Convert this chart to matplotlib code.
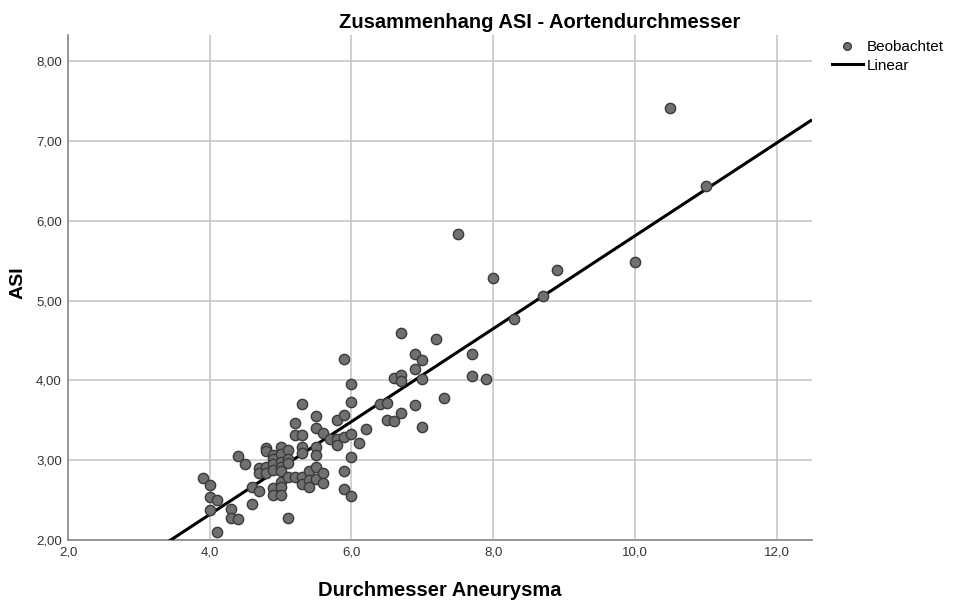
import numpy as np
import matplotlib
matplotlib.use("Agg")
import matplotlib.pyplot as plt
from matplotlib.lines import Line2D

plt.rcParams['font.family'] = ['Liberation Sans', 'DejaVu Sans']

# Data: (Durchmesser Aneurysma, ASI)
durchmesser = [
    3.9, 4.0, 4.0, 4.1, 4.0, 4.3, 4.3, 4.4, 4.1, 4.4,
    4.5, 4.6, 4.6, 4.7, 4.7, 4.7, 4.8, 4.8, 4.8, 4.8,
    4.9, 4.9, 4.9, 4.9, 4.9, 4.9, 5.0, 5.0, 5.0, 5.0,
    5.0, 5.0, 5.0, 5.0, 5.1, 5.1, 5.1, 5.1, 5.1, 5.2,
    5.2, 5.2, 5.3, 5.3, 5.3, 5.3, 5.3, 5.3, 5.4, 5.4,
    5.4, 5.5, 5.5, 5.5, 5.5, 5.5, 5.5, 5.6, 5.6, 5.6,
    5.7, 5.8, 5.8, 5.8, 5.9, 5.9, 5.9, 5.9, 5.9, 6.0,
    6.0, 6.0, 6.0, 6.0, 6.1, 6.2, 6.4, 6.5, 6.5, 6.6,
    6.6, 6.7, 6.7, 6.7, 6.7, 6.9, 6.9, 6.9, 7.0, 7.0,
    7.0, 7.2, 7.3, 7.5, 7.7, 7.7, 7.9, 8.0, 8.3, 8.7,
    8.9, 10.0, 10.5, 11.0,
]
asi = [
    2.78, 2.69, 2.54, 2.50, 2.37, 2.39, 2.28, 2.26, 2.10, 3.05,
    2.95, 2.67, 2.45, 2.62, 2.90, 2.84, 3.15, 3.11, 2.91, 2.84,
    3.07, 3.02, 2.95, 2.88, 2.65, 2.56, 3.16, 3.08, 2.98, 2.92,
    2.86, 2.73, 2.66, 2.57, 3.13, 3.02, 2.96, 2.79, 2.27, 3.47,
    3.32, 2.79, 3.71, 3.32, 3.16, 3.09, 2.79, 2.70, 2.86, 2.75,
    2.67, 3.55, 3.41, 3.16, 3.07, 2.91, 2.76, 3.34, 2.84, 2.71,
    3.26, 3.50, 3.26, 3.19, 3.57, 3.29, 2.87, 2.64, 4.27, 3.95,
    3.73, 3.33, 3.04, 2.55, 3.22, 3.39, 3.70, 3.72, 3.50, 3.49,
    4.03, 4.60, 4.07, 3.99, 3.59, 4.33, 4.14, 3.69, 4.26, 4.02,
    3.42, 4.52, 3.78, 5.83, 4.33, 4.06, 4.02, 5.29, 4.77, 5.06,
    5.38, 5.48, 7.42, 6.44,
]

# Linear fit as shown in the chart (ASI = slope * Durchmesser + intercept)
fit_slope = 0.582
fit_intercept = -0.008

x_ticks = [2.0, 4.0, 6.0, 8.0, 10.0, 12.0]
x_tick_labels = ["2,0", "4,0", "6,0", "8,0", "10,0", "12,0"]
y_ticks = [2.0, 3.0, 4.0, 5.0, 6.0, 7.0, 8.0]
y_tick_labels = ["2,00", "3,00", "4,00", "5,00", "6,00", "7,00", "8,00"]

x = np.array(durchmesser)
y = np.array(asi)

fig = plt.figure(figsize=(9.55, 6.03), dpi=100)
ax = fig.add_axes([68/955, 63/603, (812-68)/955, (540-35)/603])
ax.set_xlim(2.0, 12.5)
ax.set_ylim(2.0, 8.33)

ax.grid(True, color='#c8c8c8', linewidth=1.2, zorder=0)
ax.set_axisbelow(True)

xl = np.array([2.0, 12.5])
ax.plot(xl, fit_slope * xl + fit_intercept, color='black', linewidth=2.2,
        zorder=3, solid_capstyle='butt')
ax.scatter(x, y, s=55, facecolor='#707070', edgecolor='#3a3a3a',
           linewidth=1.0, zorder=4, clip_on=False)

ax.set_xticks(x_ticks)
ax.set_xticklabels(x_tick_labels)
ax.set_yticks(y_ticks)
ax.set_yticklabels(y_tick_labels)
ax.tick_params(length=0, labelsize=9.5, colors='#333333')
ax.tick_params(axis='x', pad=5)
ax.tick_params(axis='y', pad=4.5)

for s in ['top', 'right']:
    ax.spines[s].set_visible(False)
for s in ['left', 'bottom']:
    ax.spines[s].set_color('#888888')
    ax.spines[s].set_linewidth(1.2)

ax.set_xlabel("Durchmesser Aneurysma", fontsize=14.5, fontweight='bold')
ax.xaxis.label.set_va('center')
ax.xaxis.set_label_coords(0.5, (540 - 591) / 505)
ax.set_ylabel("ASI", fontsize=14, fontweight='bold')
ax.yaxis.label.set_va('center')
ax.yaxis.set_label_coords((18 - 68) / 744, 0.51)

fig.text(540/955, 1 - 23/603, "Zusammenhang ASI - Aortendurchmesser",
         ha='center', va='center', fontsize=14.5, fontweight='bold')

handles = [
    Line2D([], [], marker='o', linestyle='none', markersize=5.5,
           markerfacecolor='#707070', markeredgecolor='#3a3a3a'),
    Line2D([], [], color='black', linewidth=2.2),
]
fig.legend(handles, ["Beobachtet", "Linear"], loc='upper left',
           bbox_to_anchor=(832/955, 1 - 40/603), frameon=False,
           fontsize=11, handlelength=2.0, handletextpad=0.3,
           labelspacing=0.3, borderpad=0, borderaxespad=0)

fig.savefig("out.png", dpi=100)
